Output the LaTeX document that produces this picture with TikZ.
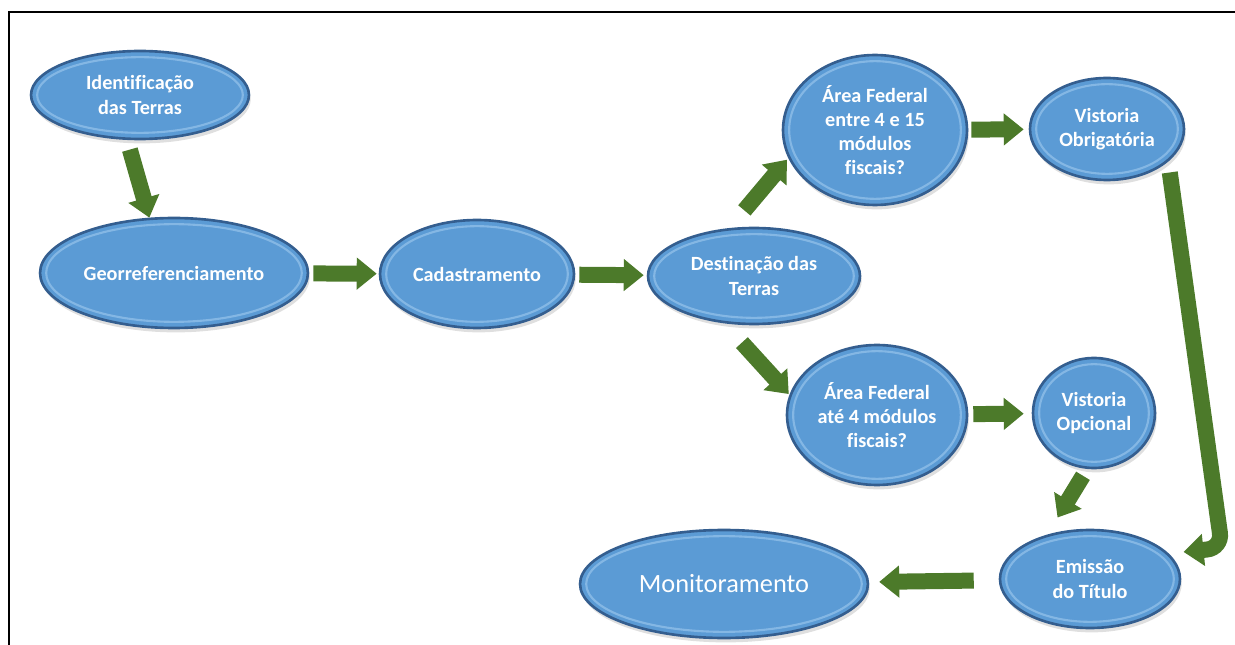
\documentclass[tikz,border=0pt]{standalone}
\usepackage{fontspec}
\setmainfont[Ligatures=NoCommon]{Carlito}
\usepackage{tikz}
\usetikzlibrary{%
  arrows.meta,%
  calc,%
  shapes.geometric,%
  shadows%
}
\definecolor{ovalfill}{RGB}{91,155,213}
\definecolor{ovalline}{RGB}{52,94,143}
\definecolor{ovalglow}{RGB}{150,195,235}
\definecolor{flowgreen}{RGB}{76,122,42}
\tikzset{
  oval/.style={ellipse,fill=ovalfill,draw=ovalline,line width=1.5pt,
    text=white,align=center,inner sep=0pt,
    font=\bfseries\fontsize{11.5}{13.8}\selectfont,
    drop shadow={opacity=.25,shadow xshift=1pt,shadow yshift=-2.5pt},
    path picture={\draw[ovalglow,opacity=.7,line width=1.2pt]
      let \p1=(path picture bounding box.north east),
          \p2=(path picture bounding box.center) in
      (\p2) ellipse [x radius=\x1-\x2-3.5pt,y radius=\y1-\y2-3.5pt];}},
  flow/.style={draw=flowgreen,line width=0.32cm,
    -{Triangle[length=0.4cm,width=0.62cm]}}
}

\begin{document}
\begin{tikzpicture}[x=0.02cm,y=-0.02cm]
    \useasboundingbox (0,0) rectangle (1235,645);
    \draw[line width=1.7pt] (9,645) -- (9,12) -- (1235,12);

    \node[oval,minimum width=4.36cm,minimum height=1.76cm] (ident) at (140,95)
    {Identificação\\das Terras};
    \node[oval,minimum width=5.36cm,minimum height=2.2cm] (georef) at (174,273)
    {Georreferenciamento};
    \node[oval,minimum width=3.88cm,minimum height=2.16cm] (cadastro) at (477,274)
    {Cadastramento};
    \node[oval,minimum width=4.24cm,minimum height=1.92cm] (destino) at (754,276)
    {Destinação das\\Terras};
    \node[oval,minimum width=3.68cm,minimum height=3cm] (areaA) at (875,130)
    {Área Federal\\entre 4 e 15\\módulos\\fiscais?};
    \node[oval,minimum width=3.08cm,minimum height=2.04cm] (vistobr) at (1107,129)
    {Vistoria\\Obrigatória};
    \node[oval,minimum width=3.6cm,minimum height=2.8cm] (areaB) at (877,415)
    {Área Federal\\até 4 módulos\\fiscais?};
    \node[oval,minimum width=2.44cm,minimum height=2.2cm] (vistopc) at (1094,413)
    {Vistoria\\Opcional};
    \node[oval,minimum width=3.6cm,minimum height=1.96cm] (emissao) at (1090,579)
    {Emissão\\do Título};
    \node[oval,minimum width=5.76cm,minimum height=2.16cm,
      font=\fontsize{15}{18}\selectfont] (monit) at (724,584) {Monitoramento};
    \coordinate (turn) at (1222,548);

    \draw[flow,shorten <=0.2cm] (ident.254) -- (georef.114);
    \draw[flow,shorten <=0.08cm,shorten >=0.04cm] (georef) -- (cadastro);
    \draw[flow,shorten <=0.08cm,shorten >=0.06cm] (cadastro) -- (destino);
    \draw[flow,shorten <=0.46cm,shorten >=0.04cm] (destino.117) -- (areaA.198);
    \draw[flow,shorten <=0.52cm,shorten >=0.02cm] (destino.238) -- (areaB.167);
    \draw[flow,shorten <=0.06cm,shorten >=0.1cm] (areaA) -- (vistobr);
    \draw[flow,shorten <=0.1cm,shorten >=0.16cm] (areaB) -- (vistopc);
    \draw[flow,shorten <=0.16cm,shorten >=0.4cm] (vistopc.263) -- (emissao.134);
    \draw[flow,rounded corners=0.3cm,shorten <=0.22cm,shorten >=0.3cm]
    (vistobr.-28) -- (turn) -- (emissao.18);
    \draw[flow,shorten <=0.5cm,shorten >=0.2cm] (emissao) -- (monit);
  \end{tikzpicture}
\end{document}
